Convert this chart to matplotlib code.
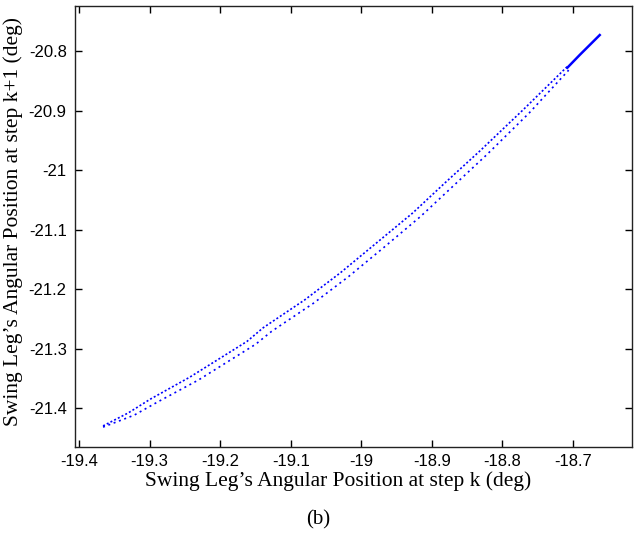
#!/usr/bin/env python3
import matplotlib
matplotlib.use('Agg')
import matplotlib.pyplot as plt

# points (deg)
upper_x = [-19.366, -19.330, -19.299, -19.243, -19.162, -19.139, -19.080,
           -19.030, -18.980, -18.927, -18.880, -18.832, -18.770, -18.708]
upper_y = [-21.430, -21.408, -21.385, -21.348, -21.288, -21.265, -21.218,
           -21.173, -21.124, -21.072, -21.020, -20.968, -20.898, -20.826]
lower_x = [-19.366, -19.322, -19.289, -19.231, -19.150, -19.127, -19.068,
           -19.018, -18.968, -18.916, -18.869, -18.822, -18.762, -18.706]
lower_y = [-21.432, -21.412, -21.390, -21.353, -21.293, -21.271, -21.224,
           -21.179, -21.130, -21.078, -21.026, -20.974, -20.904, -20.832]
# dense part near the fixed point
end_x = [-18.708, -18.690, -18.662]
end_y = [-20.828, -20.806, -20.773]

xticks = [-19.4, -19.3, -19.2, -19.1, -19.0, -18.9, -18.8, -18.7]
yticks = [-21.4, -21.3, -21.2, -21.1, -21.0, -20.9, -20.8]


def main():
    fig = plt.figure(figsize=(6.36, 5.36), dpi=100)
    ax = fig.add_axes([0.118, 0.166, 0.876, 0.823])
    ax.plot(upper_x, upper_y, color='blue', lw=1.2, linestyle=(0, (1.2, 1.3)))
    ax.plot(lower_x, lower_y, color='blue', lw=1.2, linestyle=(0, (1.2, 2.2)))
    ax.plot(end_x, end_y, color='blue', lw=1.8)

    ax.set_xlim(-19.4057, -18.616)
    ax.set_ylim(-21.4655, -20.724)
    ax.set_xticks(xticks)
    ax.set_xticklabels(['%g' % v for v in xticks], family='Liberation Sans', fontsize=12)
    ax.set_yticks(yticks)
    ax.set_yticklabels(['%g' % v for v in yticks], family='Liberation Sans', fontsize=12)
    ax.tick_params(direction='in', top=True, right=True, length=5, width=1)
    ax.tick_params(axis='x', pad=5)
    ax.tick_params(axis='y', pad=6)
    for sp in ax.spines.values():
        sp.set_linewidth(1.0)
        sp.set_color('#222222')

    ax.set_xlabel("Swing Leg\u2019s Angular Position at step k (deg)",
                  family='Liberation Serif', fontsize=15.5)
    ax.xaxis.set_label_coords(0.472, -0.055)
    ax.set_ylabel("Swing Leg\u2019s Angular Position at step k+1 (deg)",
                  family='Liberation Serif', fontsize=15.5)
    ax.yaxis.set_label_coords(-0.093, 0.512)
    fig.text(0.5, 0.030, '(b)', ha='center', va='center',
             family='Liberation Serif', fontsize=15)
    fig.savefig('out.png', dpi=100)


if __name__ == '__main__':
    main()
